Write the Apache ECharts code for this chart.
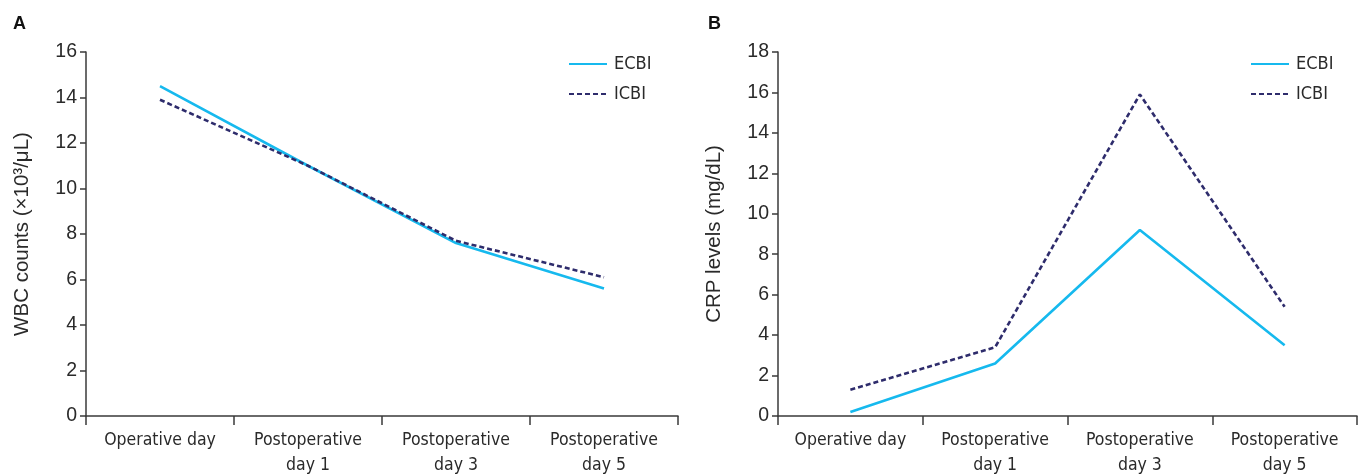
<!DOCTYPE html>
<html>
<head>
<meta charset="utf-8">
<script src="https://cdn.jsdelivr.net/npm/echarts@6/dist/echarts.min.js"></script>
<style>
html,body{margin:0;padding:0;background:#fff;}
#c{width:1367px;height:476px;}
</style>
</head>
<body>
<div id="c"></div>
<script>
const categories = ["Operative day", "Postoperative\nday 1", "Postoperative\nday 3", "Postoperative\nday 5"];
const wbcECBI = [14.5, 11.0, 7.6, 5.6];
const wbcICBI = [13.9, 11.0, 7.7, 6.1];
const crpECBI = [0.2, 2.6, 9.2, 3.5];
const crpICBI = [1.3, 3.4, 15.9, 5.4];
const wbcTicks = { min: 0, max: 16, interval: 2 };
const crpTicks = { min: 0, max: 18, interval: 2 };

const cyan = '#16b9ee';
const navy = '#2e2c6c';
const axisColor = '#3a3a3a';
const narrow = '"DejaVu Sans Condensed", "Roboto Condensed", "Liberation Sans Narrow", sans-serif';

function xAxis(gi) {
  return {
    type: 'category', gridIndex: gi, data: categories, boundaryGap: true,
    axisLine: { lineStyle: { color: axisColor, width: 1.5 } },
    axisTick: { show: true, length: 9, lineStyle: { color: axisColor, width: 1.5 } },
    axisLabel: { color: '#2a2a2a', fontFamily: narrow, fontSize: 17.5, lineHeight: 25, margin: 12, interval: 0 }
  };
}
function yAxis(gi, t, name) {
  return {
    type: 'value', gridIndex: gi, min: t.min, max: t.max, interval: t.interval,
    name: name, nameLocation: 'middle', nameGap: 53,
    nameTextStyle: { color: '#2a2a2a', fontFamily: 'Liberation Sans', fontSize: 20.5 },
    axisLine: { show: true, lineStyle: { color: axisColor, width: 1.5 } },
    axisTick: { show: true, length: 6, lineStyle: { color: axisColor, width: 1.5 } },
    axisLabel: { color: '#2a2a2a', fontFamily: 'Liberation Sans', fontSize: 19.5, margin: 9 },
    splitLine: { show: false }
  };
}
function legend(left) {
  return {
    left: left, top: 50, orient: 'vertical', itemWidth: 38, itemHeight: 10, itemGap: 12,
    itemStyle: { opacity: 0 },
    textStyle: { color: '#2a2a2a', fontFamily: narrow, fontSize: 18, padding: [0, 0, 0, 2] },
    data: [{ name: 'ECBI' }, { name: 'ICBI' }]
  };
}
function line(name, data, gi, color, dashed) {
  return {
    name: name, type: 'line', xAxisIndex: gi, yAxisIndex: gi, data: data,
    symbol: 'none', smooth: false,
    lineStyle: { color: color, width: 2.6, type: dashed ? [5, 3] : 'solid' },
    itemStyle: { color: color }
  };
}

const chart = echarts.init(document.getElementById('c'), null, { renderer: 'canvas' });
chart.setOption({
  animation: false,
  title: [
    { text: 'A', left: 8, top: 10, textStyle: { fontFamily: 'Liberation Sans', fontWeight: 'bold', fontSize: 18, color: '#111' } },
    { text: 'B', left: 703, top: 10, textStyle: { fontFamily: 'Liberation Sans', fontWeight: 'bold', fontSize: 18, color: '#111' } }
  ],
  legend: [legend(563), legend(1245)],
  grid: [
    { left: 86, right: 689, top: 52, bottom: 60, containLabel: false, outerBoundsMode: 'none' },
    { left: 778, right: 10, top: 52, bottom: 60, containLabel: false, outerBoundsMode: 'none' }
  ],
  xAxis: [xAxis(0), xAxis(1)],
  yAxis: [yAxis(0, wbcTicks, 'WBC counts (×10³/μL)'), yAxis(1, crpTicks, 'CRP levels (mg/dL)')],
  series: [
    line('ECBI', wbcECBI, 0, cyan, false),
    line('ICBI', wbcICBI, 0, navy, true),
    line('ECBI', crpECBI, 1, cyan, false),
    line('ICBI', crpICBI, 1, navy, true)
  ]
});
</script>
</body>
</html>
